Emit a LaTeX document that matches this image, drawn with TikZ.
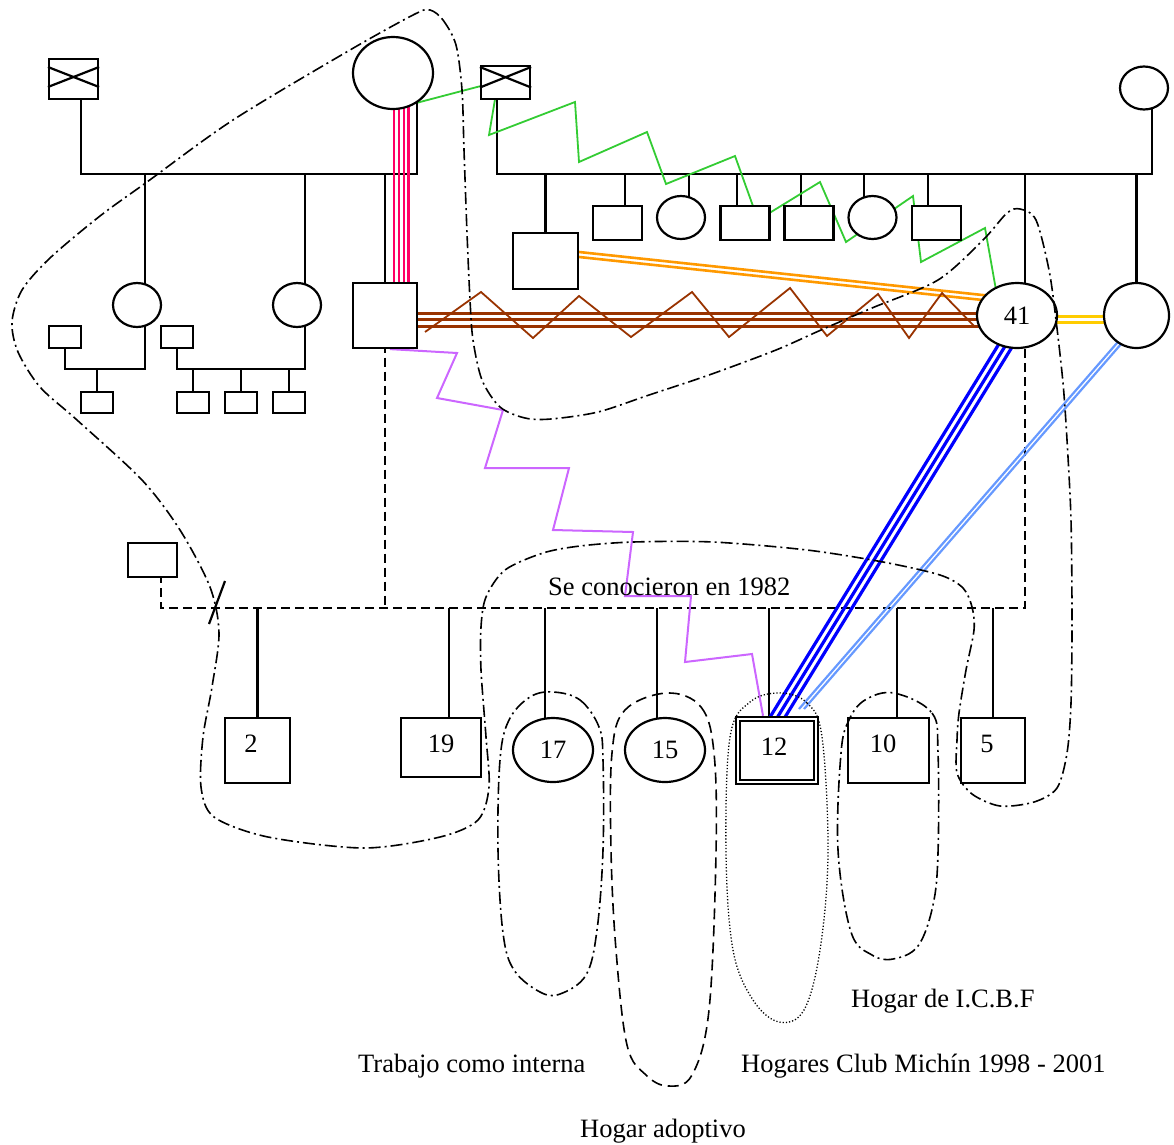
\documentclass[tikz,border=0pt]{standalone}
\usepackage{fontspec}
\setmainfont{Liberation Serif}
\usetikzlibrary{calc,backgrounds,shapes.geometric}
\definecolor{cpink}{HTML}{FF0066}
\definecolor{cgreen}{HTML}{33CC33}
\definecolor{corange}{HTML}{FF9900}
\definecolor{cyellow}{HTML}{FFCC00}
\definecolor{cbrown}{HTML}{993300}
\definecolor{cviolet}{HTML}{CC66FF}
\definecolor{cblue}{HTML}{0000FF}
\definecolor{clblue}{HTML}{6699FF}
\newcommand\numfont{\fontsize{26.5}{30}\selectfont}
\begin{document}
\begin{tikzpicture}[x=1pt,y=-1pt,
  gl/.style={line width=2.2pt},
  dl/.style={line width=2.2pt, dash pattern=on 9pt off 5pt},
  person/.style={draw, fill=white, line width=2.2pt, inner sep=0pt, font=\numfont},
  box/.style={person, rectangle},
  fem/.style={person, ellipse},
  encl/.style={line width=1.6pt, dash pattern=on 12pt off 4pt on 2pt off 4pt},
  dashencl/.style={line width=1.6pt, dash pattern=on 11pt off 6pt},
  dotencl/.style={line width=1.3pt, dash pattern=on 1.2pt off 2pt},
  lbl/.style={font=\numfont, inner sep=0pt, anchor=base west},
  pinkl/.style={cpink, line width=2.4pt},
  grl/.style={cgreen, line width=1.8pt},
  orl/.style={corange, line width=2.6pt},
  yel/.style={cyellow, line width=2.6pt},
  brl/.style={cbrown, line width=3pt},
  brz/.style={cbrown, line width=1.8pt},
  vil/.style={cviolet, line width=2pt},
  bll/.style={cblue, line width=3.2pt},
  lbl2/.style={clblue, line width=2.2pt}]
\useasboundingbox (0,0) rectangle (1174,1144);

% ---------- persons ----------
\node[box, minimum width=49pt, minimum height=40pt] (gf1) at (73.5,79) {};
\node[fem, minimum width=80pt, minimum height=72pt] (gm1) at (393,73) {};
\node[fem, minimum width=48pt, minimum height=44pt] (d1) at (137,305) {};
\node[fem, minimum width=48pt, minimum height=44pt] (d2) at (297,305) {};
\node[box, minimum width=64pt, minimum height=65pt] (s1) at (385,315.5) {};
\node[box, minimum width=32pt, minimum height=22pt] (r1a) at (65,337) {};
\node[box, minimum width=32pt, minimum height=21pt] (r1b) at (97,402.5) {};
\node[box, minimum width=32pt, minimum height=22pt] (r2a) at (177,337) {};
\node[box, minimum width=32pt, minimum height=21pt] (r2b) at (193,402.5) {};
\node[box, minimum width=32pt, minimum height=21pt] (r2c) at (241,402.5) {};
\node[box, minimum width=32pt, minimum height=21pt] (r2d) at (289,402.5) {};

\node[box, minimum width=49pt, minimum height=33pt] (gf2) at (505.5,82.5) {};
\node[fem, minimum width=48pt, minimum height=43pt] (gm2) at (1144,88) {};
\node[box, minimum width=65pt, minimum height=56pt] (sA) at (545.5,261) {};
\node[box, minimum width=49pt, minimum height=34pt] (sB) at (617.5,223) {};
\node[fem, minimum width=48pt, minimum height=43pt] (cC) at (681,217.5) {};
\node[box, minimum width=49pt, minimum height=34pt] (sD) at (745,223) {};
\node[box, minimum width=49pt, minimum height=34pt] (sE) at (809,223) {};
\node[fem, minimum width=48pt, minimum height=43pt] (cF) at (872.5,217.5) {};
\node[box, minimum width=49pt, minimum height=34pt] (sG) at (936.5,223) {};
\node[fem, minimum width=80pt, minimum height=65pt] (p41) at (1017,315.5) {41};
\node[fem, minimum width=65pt, minimum height=65pt] (cH) at (1136.5,315.5) {};

\node[box, minimum width=49pt, minimum height=34pt] (sX) at (152.5,560) {};
\node[box, minimum width=65pt, minimum height=65pt,
  label={[font=\numfont, xshift=-6.5pt, yshift=6.5pt]center:2}] (k2) at (257.5,750.5) {};
\node[box, minimum width=80pt, minimum height=59pt,
  label={[font=\numfont, yshift=3.5pt]center:19}] (k19) at (441,747.5) {};
\node[fem, minimum width=80pt, minimum height=64pt] (k17) at (553,750) {17};
\node[fem, minimum width=80pt, minimum height=64pt] (k15) at (665,750) {15};
\node[box, line width=2.5pt, minimum width=82pt, minimum height=67pt,
  label={[font=\numfont, xshift=-3pt, yshift=3.5pt]center:12}] (k12) at (777,750.5) {};
\node[box, minimum width=81pt, minimum height=65pt,
  label={[font=\numfont, xshift=-5.5pt, yshift=6.5pt]center:10}] (k10) at (888.5,750.5) {};
\node[box, minimum width=64pt, minimum height=65pt,
  label={[font=\numfont, xshift=-6pt, yshift=6.5pt]center:5}] (k5) at (993,750.5) {};

% decorations of the symbols
\draw[gl] ([yshift=12pt]gf1.west) -- ([yshift=-8pt]gf1.east)
          ([yshift=-8pt]gf1.west) -- ([yshift=12pt]gf1.east);
\draw[gl] ([yshift=15.5pt]gf2.west) -- ([yshift=-5pt]gf2.east)
          ([yshift=-5pt]gf2.west) -- ([yshift=15.5pt]gf2.east);
\draw[line width=2.3pt] ([shift={(5pt,-5pt)}]k12.north west) rectangle ([shift={(-5pt,5pt)}]k12.south east);

\coordinate (j1R) at (417,174);
\coordinate (j2R) at (1152,174);
\coordinate (j3R) at (1025,608);

% ---------- connectors (behind the symbols) ----------
\begin{pgfonlayer}{background}
\fill[white] (0,0) rectangle (1174,1144);
% family 1
\draw[gl] ([xshift=7.5pt]gf1.south) |- (j1R) -- (j1R |- gm1.center);
\draw[gl] ([xshift=8pt]d1.center) -- ++(0,-131);
\draw[gl] ([xshift=8pt]d2.center) -- ++(0,-131);
\draw[gl] (s1.center) -- ++(0,-141.5);
\foreach \dx in {9,14,19,23.5}
  \draw[pinkl] ([xshift=\dx pt]s1.center) -- ++(0,-241);
\draw[gl] ([xshift=8pt]d1.center) -- ++(0,64) -| (r1a.center);
\draw[gl] (r1b.center) -- ++(0,-33.5);
\draw[gl] ([xshift=8pt]d2.center) -- ++(0,64) -| (r2a.center);
\foreach \n in {r2b,r2c,r2d} \draw[gl] (\n.center) -- ++(0,-33.5);
% family 2
\draw[gl] ([xshift=-8.5pt]gf2.south) |- (j2R) -- (j2R |- gm2.center);
\draw[gl] (sA.center) -- ++(0,-87);
\draw[gl] ([xshift=7.5pt]sB.center) -- ++(0,-49);
\draw[gl] ([xshift=8pt]cC.center) -- ++(0,-43.5);
\draw[gl] ([xshift=-8pt]sD.center) -- ++(0,-49);
\draw[gl] ([xshift=-8pt]sE.center) -- ++(0,-49);
\draw[gl] ([xshift=-8.5pt]cF.center) -- ++(0,-43.5);
\draw[gl] ([xshift=-8.5pt]sG.center) -- ++(0,-49);
\draw[gl] ([xshift=8pt]p41.center) -- ++(0,-141.5);
\draw[gl] (cH.center) -- ++(0,-141.5);
% lower generation
\draw[dl] ([xshift=8.5pt]sX.center) |- (j3R) -- ([xshift=8pt]p41.center);
\draw[dl] (s1.center) -- (s1.center |- j3R);
\draw[gl] (209,624) -- (225,581);
\draw[gl] (k2.center) -- (k2.center |- j3R);
\draw[gl] ([xshift=8pt]k19.center) -- ++(0,-139.5);
\draw[gl] ([xshift=-8pt]k17.center) -- ++(0,-142);
\draw[gl] ([xshift=-8pt]k15.center) -- ++(0,-142);
\draw[gl] ([xshift=-8pt]k12.center) -- ++(0,-142.5);
\draw[gl] ([xshift=8.5pt]k10.center) -- ++(0,-142.5);
\draw[gl] (k5.center) -- (k5.center |- j3R);
% relations
\draw[grl] (gm1.-50) -- (498,81.5) -- (489,135) -- (575,102) -- (579,162) -- (647,132)
  -- (666,184) -- (735,156) -- (758,220) -- (820,182) -- (846,242) -- (913,196)
  -- (921,262) -- (985,228) -- (p41.127);
\draw[orl] ([yshift=9pt]sA.east) -- ([shift={(-25pt,19.5pt)}]p41.center);
\draw[orl] ([yshift=4pt]sA.east) -- ([shift={(-25pt,14.5pt)}]p41.center);
\draw[yel] ([yshift=-1pt]p41.center) -- ([yshift=-1pt]cH.center);
\draw[yel] ([yshift=-7pt]p41.center) -- ([yshift=-7pt]cH.center);
\foreach \dy in {2.5,-4.2,-10.5}
  \draw[brl] ([yshift=\dy pt]s1.center) -- ([yshift=\dy pt]p41.center);
\draw[brz] (425,332) -- (481,292) -- (533,338) -- (579,296) -- (631,337) -- (692,292)
  -- (729,337) -- (790,288) -- (827,336) -- (878,294) -- (909,338) -- (942,293) -- (975,327);
\draw[vil] ([xshift=5pt]s1.south) -- (457,353) -- (437,398) -- (503,410) -- (485,468)
  -- (569,468) -- (553,530) -- (633,532) -- (625,596) -- (691,596) -- (685,662)
  -- (752,654) -- ([xshift=-14pt]k12.north);
\draw[bll] ([shift={(-17.5pt,-27.5pt)}]p41.center) -- ([shift={(-10pt,28.5pt)}]k12.center);
\draw[bll] ([shift={(-10pt,-27.5pt)}]p41.center) -- ([shift={(-2.5pt,28.5pt)}]k12.center);
\draw[bll] ([shift={(-2.5pt,-27.5pt)}]p41.center) -- ([shift={(5pt,28.5pt)}]k12.center);
\draw[lbl2] ([shift={(-15.2pt,-22.5pt)}]cH.center) -- ([shift={(22pt,41.5pt)}]k12.center);
\draw[lbl2] ([shift={(-10.2pt,-22.5pt)}]cH.center) -- ([shift={(27pt,41.5pt)}]k12.center);
\end{pgfonlayer}

% ---------- enclosures ----------
\draw[encl] plot[smooth cycle, tension=0.5] coordinates {
 (430,10) (443,20) (456,45) (462,90) (464,150) (467,233) (470,300) (473,340) (482,380)
 (500,407) (525,418) (551,419) (598,412) (649,395) (709,375) (776,350) (821,330)
 (872,308) (938,280) (983,240) (1007,213) (1020,209) (1036,220) (1049,270) (1056,320)
 (1063,383) (1067,440) (1071,520) (1072,620) (1071,703) (1067,753) (1057,788)
 (1034,802) (1000,806) (972,794) (957,773) (957,740) (959,713) (966,670) (974,630)
 (972,607) (963,588) (940,575) (883,562) (807,550) (713,542) (633,542) (580,546)
 (543,553) (505,570) (486,597) (481,627) (481,670) (486,737) (489,787) (478,820)
 (440,837) (364,848) (268,837) (214,817) (201,787) (203,737) (212,687) (219,633)
 (210,587) (180,530) (142,480) (77,420) (40,387) (18,352) (12,322) (22,290) (50,258)
 (100,216) (147,182) (233,120) (350,50) (415,14)};
\draw[encl] plot[smooth cycle, tension=0.6] coordinates {
 (553,692) (580,700) (599,727) (603,760) (603,850) (597,930) (586,975) (560,994)
 (540,992) (514,970) (503,933) (498,850) (500,760) (509,720) (530,697)};
\draw[dashencl] plot[smooth cycle, tension=0.6] coordinates {
 (667,693) (701,707) (714,753) (716,853) (709,1010) (692,1075) (668,1086) (646,1075)
 (627,1045) (616,950) (611,850) (612,753) (625,710)};
\draw[dotencl] plot[smooth cycle, tension=0.6] coordinates {
 (780,693) (807,703) (822,737) (828,853) (820,950) (804,1010) (779,1022) (753,1000)
 (733,950) (726,853) (730,737) (750,702)};
\draw[encl] plot[smooth cycle, tension=0.6] coordinates {
 (894,693) (932,713) (938,753) (938,853) (933,905) (918,946) (893,959) (872,955)
 (851,932) (838,850) (841,753) (849,720) (865,700)};

% ---------- texts ----------
\node[lbl] (t1) at (548,595) {Se conocieron en 1982};
\node[lbl] (t2) at (851,1007) {Hogar de I.C.B.F};
\node[lbl] (t3) at (358,1072) {Trabajo como interna};
\node[lbl] (t4) at (741,1072) {Hogares Club Michín 1998 - 2001};
\node[lbl] (t5) at (580,1137) {Hogar adoptivo};
\end{tikzpicture}
\end{document}
